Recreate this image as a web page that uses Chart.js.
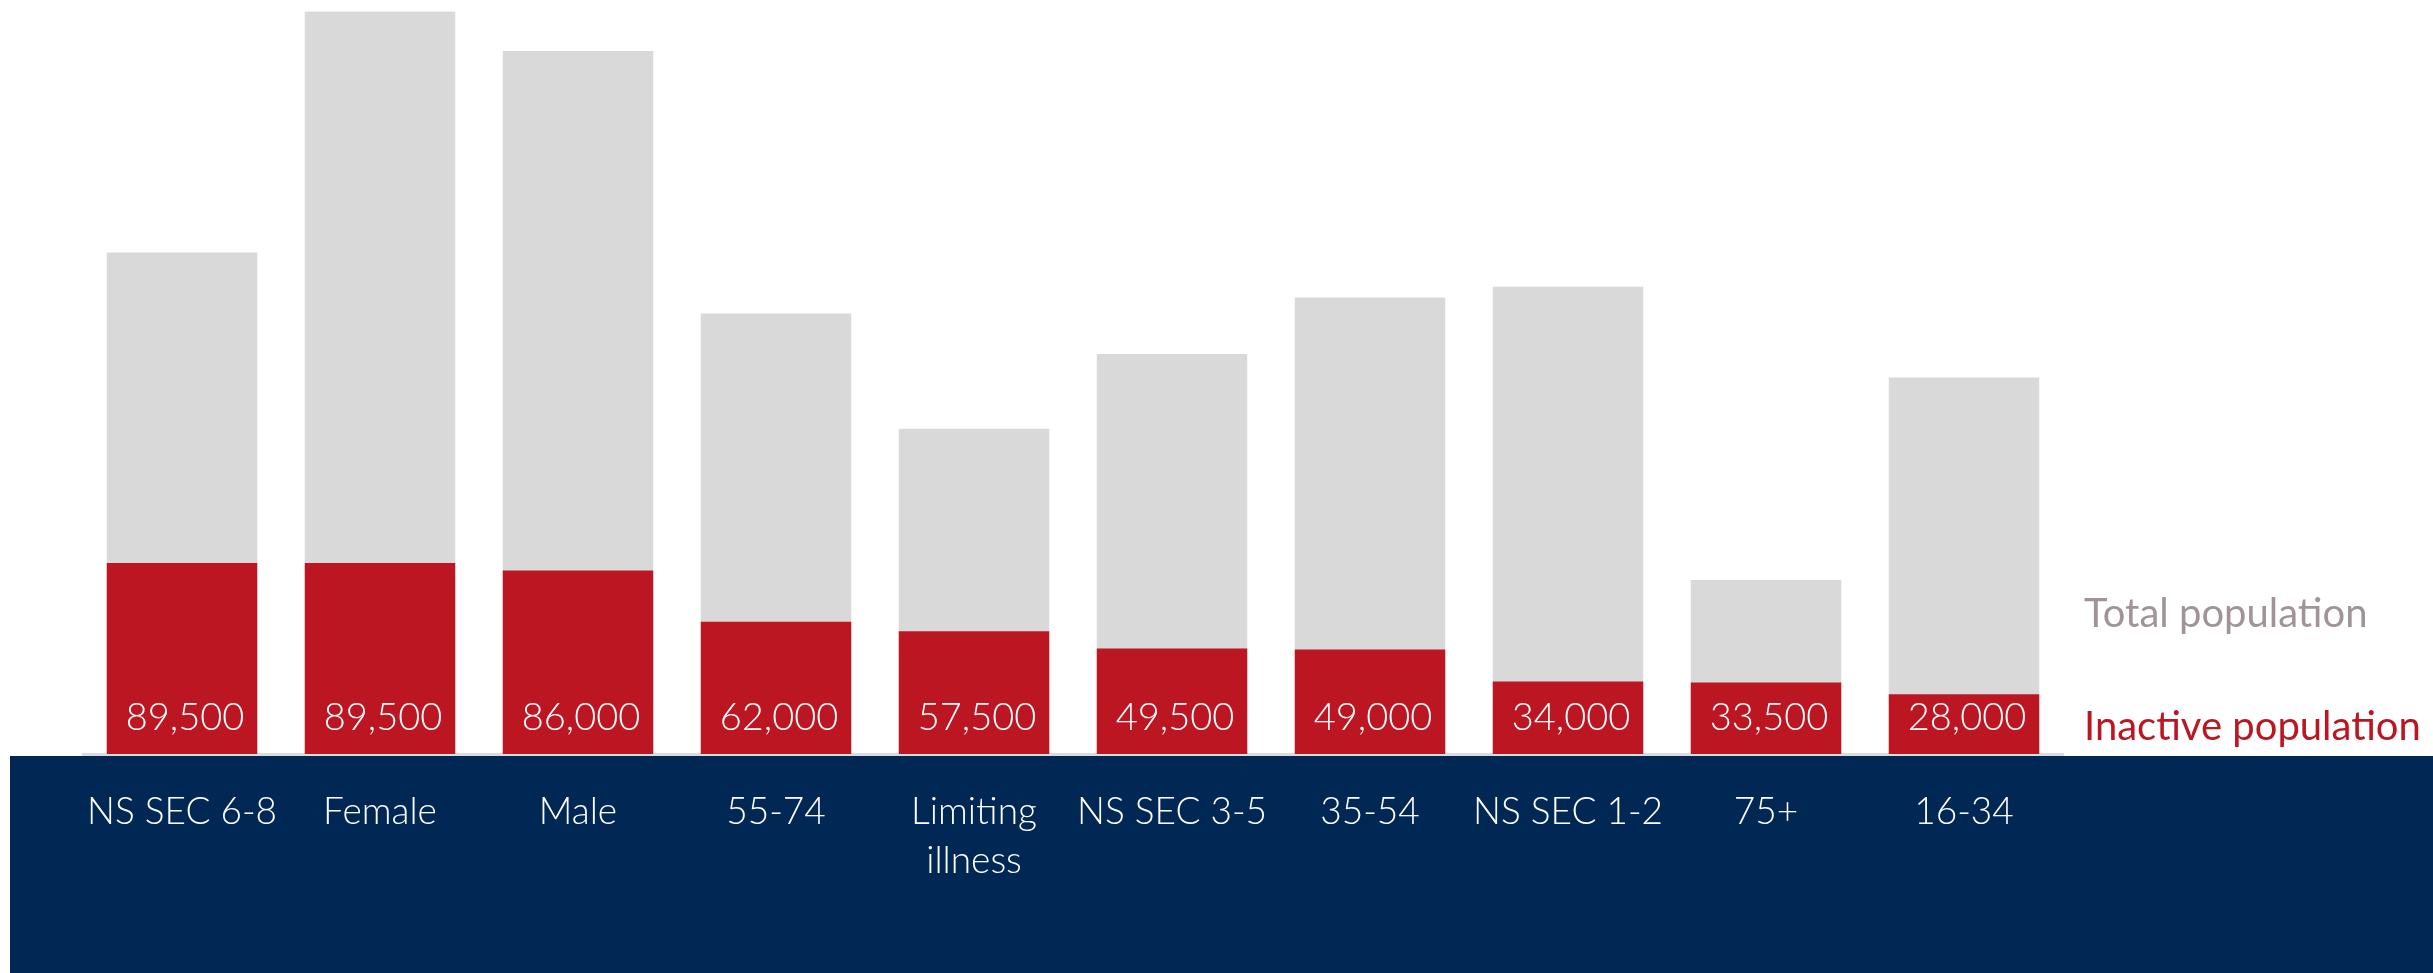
<!DOCTYPE html>
<html>
<head>
<meta charset="utf-8">
<script src="https://cdn.jsdelivr.net/npm/chart.js@4"></script>
<style>
    body { margin: 0; background: #ffffff; }
    #wrap { width: 2433px; height: 973px; }
</style>
</head>
<body>
<div id="wrap"><canvas id="popChart" width="2433" height="973"></canvas></div>
<script>
// категории и значения
const categories = ['NS SEC 6-8', 'Female', 'Male', '55-74', ['Limiting', 'illness'], 'NS SEC 3-5', '35-54', 'NS SEC 1-2', '75+', '16-34'];
const inactivePopulation = [89500, 89500, 86000, 62000, 57500, 49500, 49000, 34000, 33500, 28000];
const totalPopulation = [235000, 348000, 329500, 206500, 152500, 187500, 214000, 219000, 81500, 176500];
const legendLabels = ['Total population', 'Inactive population'];

const NAVY = '#012854';
const RED = '#bc1622';
const GREY = '#d9d9d9';
const FONT = 'Lato, "Open Sans", sans-serif';

// тёмно-синяя полоса внизу под подписями
const navyBand = {
    id: 'navyBand',
    beforeDraw(chart) {
        const ctx = chart.ctx;
        ctx.save();
        ctx.fillStyle = NAVY;
        ctx.fillRect(10, chart.chartArea.bottom + 2, chart.width - 10, chart.height - chart.chartArea.bottom - 2);
        ctx.restore();
    }
};

// подписи значений внутри красных столбцов
const valueLabels = {
    id: 'valueLabels',
    afterDatasetsDraw(chart) {
        const ctx = chart.ctx;
        const meta = chart.getDatasetMeta(0);
        ctx.save();
        ctx.fillStyle = '#ffffff';
        ctx.font = '300 38px ' + FONT;
        ctx.textAlign = 'center';
        ctx.textBaseline = 'middle';
        meta.data.forEach((bar, i) => {
            ctx.fillText(inactivePopulation[i].toLocaleString('en-GB'), bar.x + 3, chart.chartArea.bottom - 36);
        });
        ctx.restore();
    }
};

// подписи серий справа вместо легенды
const sideLegend = {
    id: 'sideLegend',
    afterDraw(chart) {
        const ctx = chart.ctx;
        const x = chart.chartArea.right + 21;
        const bottom = chart.chartArea.bottom;
        ctx.save();
        ctx.font = '40px ' + FONT;
        ctx.textAlign = 'left';
        ctx.textBaseline = 'middle';
        ctx.fillStyle = '#a09498';
        ctx.fillText(legendLabels[0], x, bottom - 140);
        ctx.fillStyle = RED;
        ctx.fillText(legendLabels[1], x, bottom - 27);
        ctx.restore();
    }
};

const ctx = document.getElementById('popChart').getContext('2d');

new Chart(ctx, {
    type: 'bar',
    data: {
        labels: categories,
        datasets: [{
            label: legendLabels[1],
            data: inactivePopulation,
            backgroundColor: RED,
            order: 1,
            barPercentage: 0.76,
            categoryPercentage: 1
        }, {
            label: legendLabels[0],
            data: totalPopulation,
            backgroundColor: GREY,
            order: 2,
            barPercentage: 0.76,
            categoryPercentage: 1
        }]
    },
    options: {
        responsive: false,
        animation: false,
        layout: {
            padding: { left: 83, right: 370, top: 3, bottom: 0 }
        },
        scales: {
            x: {
                stacked: true, // оба столбца в одном месте, друг поверх друга
                grid: { display: false, drawTicks: false },
                border: { display: true, color: '#dcdcdc', width: 3 },
                ticks: {
                    color: '#ffffff',
                    padding: 33,
                    font: { family: FONT, size: 37, weight: '300', lineHeight: 1.34 },
                    maxRotation: 0,
                    autoSkip: false
                },
                afterFit(scale) {
                    scale.height = 219;
                }
            },
            y: {
                display: false,
                min: 0,
                max: 352000
            }
        },
        plugins: {
            legend: { display: false },
            tooltip: { enabled: false }
        }
    },
    plugins: [navyBand, valueLabels, sideLegend]
});
</script>
</body>
</html>
